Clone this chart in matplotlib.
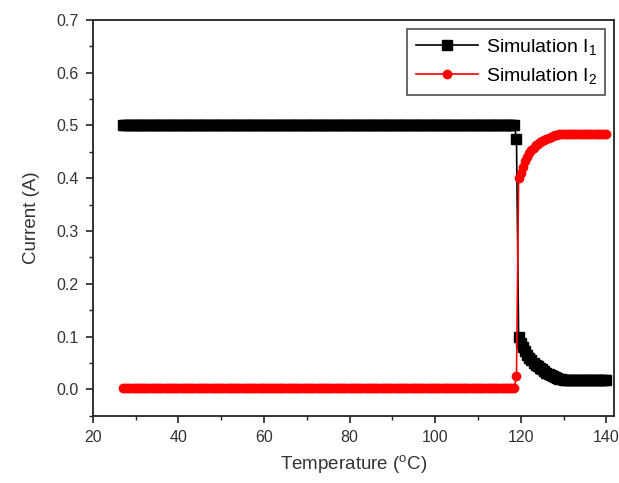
import numpy as np
import matplotlib
matplotlib.use("Agg")
import matplotlib.pyplot as plt
from matplotlib.ticker import MultipleLocator

plt.rcParams['font.family'] = ['Liberation Sans', 'DejaVu Sans']
plt.rcParams['mathtext.default'] = 'regular'

# temperature grid (0.5 C steps)
temps = np.arange(27, 140.5, 0.5)

# I1: plateau, drop at ~119 C, decay to tail
i1_plateau = [0.5] * 184
i1_edge = [0.475]
i1_decay = [0.100, 0.088, 0.080, 0.072, 0.066, 0.060, 0.055, 0.051, 0.047, 0.044, 0.041,
            0.038, 0.035, 0.032, 0.030, 0.027, 0.025, 0.023, 0.021, 0.020, 0.019, 0.018]
i1_tail = [0.018] * 20
current_1 = i1_plateau + i1_edge + i1_decay + i1_tail

# I2: near zero, jump at ~119 C, rise to plateau
i2_base = [0.003] * 184
i2_edge = [0.025]
i2_rise = [0.400, 0.410, 0.422, 0.432, 0.440, 0.447, 0.453, 0.458, 0.462, 0.465, 0.468,
           0.471, 0.473, 0.475, 0.477, 0.479, 0.480, 0.481, 0.482, 0.483, 0.484, 0.484]
i2_tail = [0.484] * 20
current_2 = i2_base + i2_edge + i2_rise + i2_tail

fig = plt.figure(figsize=(6.19, 4.83), dpi=100)
ax = fig.add_axes([0.150, 0.139, 0.842, 0.820])

ax.plot(temps, current_1, color='black', marker='s', markersize=6.5, linewidth=1.2,
        label='Simulation I$_1$')
ax.plot(temps, current_2, color='red', marker='o', markersize=6, linewidth=1.2,
        label='Simulation I$_2$')

ax.set_xlim(20, 141.8)
ax.set_ylim(-0.05, 0.7)
ax.xaxis.set_major_locator(MultipleLocator(20))
ax.xaxis.set_minor_locator(MultipleLocator(10))
ax.yaxis.set_major_locator(MultipleLocator(0.1))
ax.yaxis.set_minor_locator(MultipleLocator(0.05))
ax.yaxis.set_major_formatter(matplotlib.ticker.FormatStrFormatter('%.1f'))
ax.tick_params(which='both', direction='out', top=False, right=False, colors='#222222',
               labelcolor='#333333')
ax.tick_params(which='major', length=5, width=1.2, labelsize=11.5, pad=5)
ax.tick_params(which='minor', length=3, width=1.0)
for s in ax.spines.values():
    s.set_linewidth(1.3)
    s.set_color('#222222')

ax.set_xlabel('Temperature ($^{o}$C)', fontsize=13.5, color='#333333', labelpad=6)
ax.set_ylabel('Current (A)', fontsize=13.5, color='#333333', labelpad=12)

leg = ax.legend(loc='upper right', fontsize=14, frameon=True, fancybox=False,
                edgecolor='#222222', borderaxespad=0.45, handlelength=3.2,
                labelspacing=0.45, handletextpad=0.4, borderpad=0.45)
leg.get_frame().set_linewidth(1.2)

fig.savefig('out.png', dpi=100)
